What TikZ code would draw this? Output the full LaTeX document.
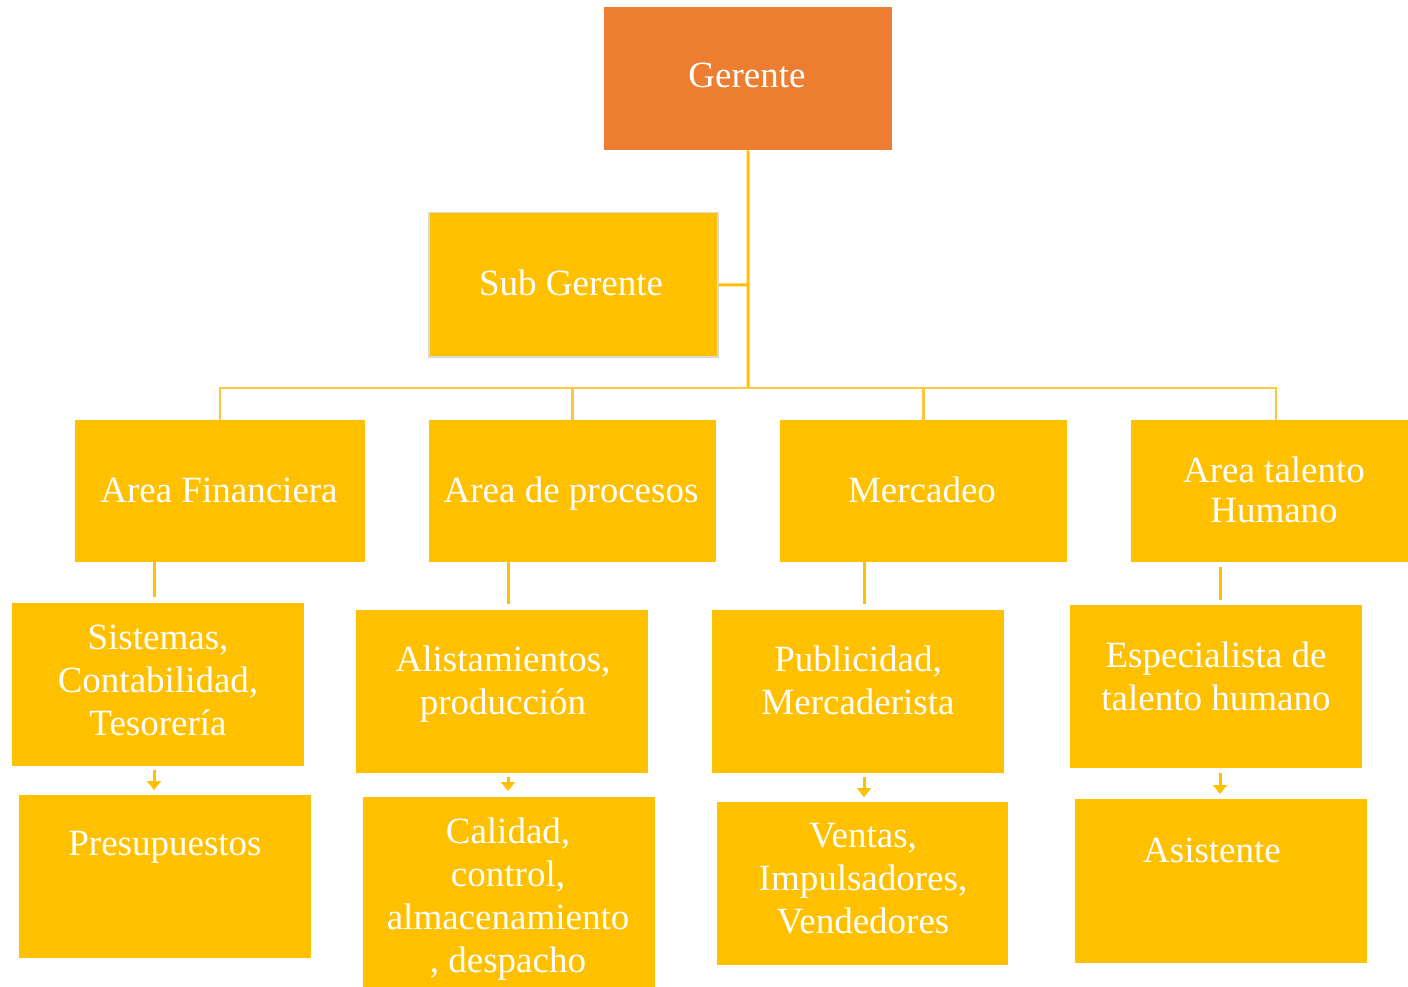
\documentclass[tikz,border=0pt]{standalone}
\usepackage{fontspec}
\setmainfont{Liberation Serif}
\usetikzlibrary{arrows.meta}
\definecolor{gold}{HTML}{FFC000}
\definecolor{orng}{HTML}{ED7D31}
\definecolor{bus}{HTML}{FFC83A}
\definecolor{frame}{HTML}{D9D9D9}
\tikzset{
  box/.style={fill=gold, draw=none, inner sep=0pt, anchor=north west},
  txt/.style={text=white, align=center, inner sep=0pt, anchor=base, font=\fontsize{37}{43}\selectfont},
  con/.style={draw=gold, line width=3pt},
  busline/.style={draw=bus, line width=2.5pt},
  arr/.style={draw=gold, line width=3pt, -{Triangle[width=14pt,length=9pt]}},
}
\begin{document}
\begin{tikzpicture}[x=1pt,y=-1pt]
\useasboundingbox (0,0) rectangle (1408,987);
% boxes
\node[box, fill=orng, minimum width=288pt, minimum height=143pt] (ger) at (604,7) {};
\node[box, draw=frame, line width=1.5pt, minimum width=289pt, minimum height=144pt] (sub) at (428,212) {};
\node[box, minimum width=290pt, minimum height=142pt] (af) at (75,420) {};
\node[box, minimum width=287pt, minimum height=142pt] (ap) at (429,420) {};
\node[box, minimum width=287pt, minimum height=142pt] (me) at (780,420) {};
\node[box, minimum width=277pt, minimum height=142pt] (th) at (1131,420) {};
\node[box, minimum width=292pt, minimum height=163pt] (sis) at (12,603) {};
\node[box, minimum width=292pt, minimum height=163pt] (ali) at (356,610) {};
\node[box, minimum width=292pt, minimum height=163pt] (pub) at (712,610) {};
\node[box, minimum width=292pt, minimum height=163pt] (esp) at (1070,605) {};
\node[box, minimum width=292pt, minimum height=163pt] (pre) at (19,795) {};
\node[box, minimum width=292pt, minimum height=200pt] (cal) at (363,797) {};
\node[box, minimum width=291pt, minimum height=163pt] (ven) at (717,802) {};
\node[box, minimum width=292pt, minimum height=164pt] (asi) at (1075,799) {};
% texts (anchored at the baseline of their last line)
\node[txt] (tger) at (747,88) {Gerente};
\node[txt] (tsub) at (571,295) {Sub Gerente};
\node[txt] (taf) at (219,502) {Area Financiera};
\node[txt] (tap) at (571,502) {Area de procesos};
\node[txt] (tme) at (922,502) {Mercadeo};
\node[txt, font=\fontsize{37}{40}\selectfont] (tth) at (1274,522) {Area talento\\Humano};
\node[txt] (tsis) at (158,735) {Sistemas,\\Contabilidad,\\Tesorería};
\node[txt] (tali) at (503,714) {Alistamientos,\\producción};
\node[txt] (tpub) at (858,714) {Publicidad,\\Mercaderista};
\node[txt] (tesp) at (1216,710) {Especialista de\\talento humano};
\node[txt] (tpre) at (165,855) {Presupuestos};
\node[txt] (tcal) at (508,972) {Calidad,\\control,\\almacenamiento\\, despacho};
\node[txt] (tven) at (863,933) {Ventas,\\Impulsadores,\\Vendedores};
\node[txt] (tasi) at (1212,862) {Asistente};
% coordinates
\coordinate (j) at (748,388);
\coordinate (js) at (748,285);
\coordinate (x1) at (154,0);
\coordinate (x2) at (508,0);
\coordinate (x3) at (864,0);
\coordinate (x4) at (1220,0);
\coordinate (x5) at (1276,0);
% connectors top
\draw[con] (ger.south) -- (j);
\draw[con] (sub.east) -- (js);
\draw[busline] (j) -| (af.north);
\draw[busline] (j) -| (ap.north);
\draw[busline] (j) -| (me.north);
\draw[busline] (j) -| (th.north -| x5);
% level 2 to 3
\draw[con] (af.south -| x1) -- ([yshift=6pt]sis.north -| x1);
\draw[con] (ap.south -| x2) -- ([yshift=6pt]ali.north -| x2);
\draw[con] (me.south -| x3) -- ([yshift=6pt]pub.north -| x3);
\draw[con] ([yshift=-5pt]th.south -| x4) -- ([yshift=5pt]esp.north -| x4);
% level 3 to 4
\draw[arr] ([yshift=-4pt]sis.south -| x1) -- ([yshift=5pt]pre.north -| x1);
\draw[arr] ([yshift=-4pt]ali.south -| x2) -- ([yshift=6pt]cal.north -| x2);
\draw[arr] ([yshift=-4pt]pub.south -| x3) -- ([yshift=5pt]ven.north -| x3);
\draw[arr] ([yshift=-5pt]esp.south -| x4) -- ([yshift=5pt]asi.north -| x4);
\end{tikzpicture}
\end{document}
